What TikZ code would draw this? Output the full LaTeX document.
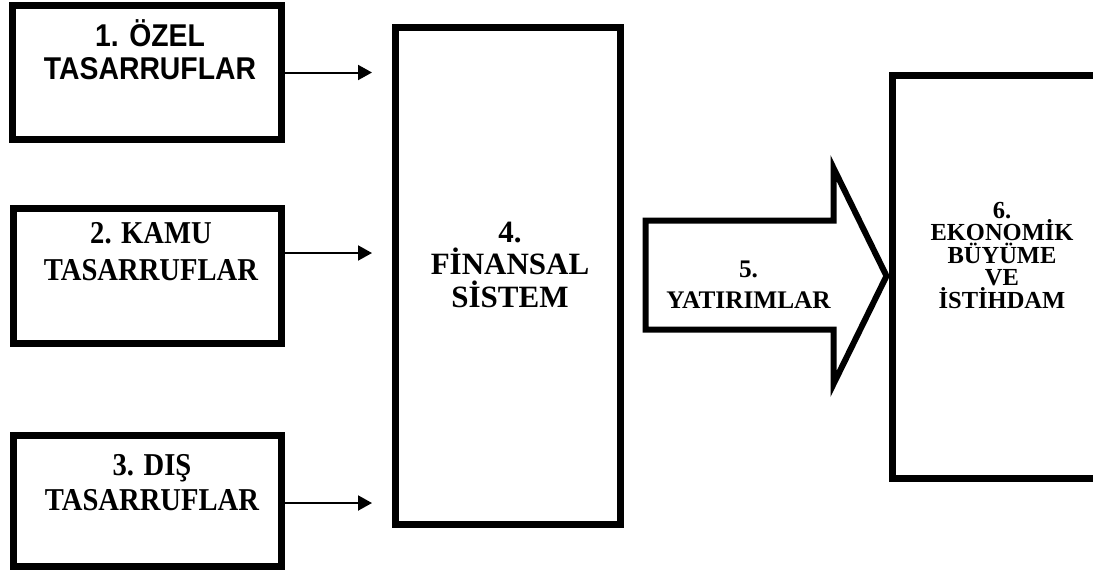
\documentclass[tikz,border=0pt]{standalone}
\usepackage{fontspec}
\setmainfont{Liberation Serif}
\setsansfont{Liberation Sans}
\usetikzlibrary{arrows.meta}

\newcommand\tightlines{\lineskiplimit=-30pt\relax}

\begin{document}
\begin{tikzpicture}[
    x=1pt, y=-1pt,
    box/.style={draw, line width=7pt, inner sep=0pt},
    flow/.style={line width=2pt, -{Triangle[length=14pt, width=15pt]}},
    txt/.style={anchor=base, align=center, inner sep=0pt, font=\bfseries}
]
    % page frame (right box runs off the page)
    \clip (0,0) rectangle (1093,571);

    % --- SOURCES (left column) ---
    \node[box, minimum width=269pt, minimum height=134pt] (ozel) at (147,72.5) {};
    \node[box, minimum width=268pt, minimum height=135pt] (kamu) at (147.5,276) {};
    \node[box, minimum width=268pt, minimum height=131pt] (dis)  at (147.5,501) {};

    % base anchor sits on the last line
    \node[txt, font=\sffamily\bfseries\fontsize{31.5}{32.5}\selectfont\addfontfeature{FakeStretch=0.9}] (ozeltxt) at (150,79) {1. ÖZEL\\TASARRUFLAR};
    \node[txt, font=\bfseries\fontsize{31.8}{37}\selectfont\addfontfeature{FakeStretch=0.9}] (kamutxt) at (151,280) {2. KAMU\\TASARRUFLAR};
    \node[txt, font=\bfseries\fontsize{31.8}{35}\selectfont\addfontfeature{FakeStretch=0.9}] (distxt) at (152,510) {3. DIŞ\\TASARRUFLAR};

    % --- FINANCIAL SYSTEM ---
    \node[box, minimum width=225pt, minimum height=497pt] (fin) at (508,276) {};
    \node[txt, font=\bfseries\fontsize{31}{32.5}\selectfont] (fintxt) at (510,307) {4.\\FİNANSAL\\SİSTEM};

    % free ends of the thin arrows (they stop short of the box)
    \coordinate (gap) at (372,0);

    \draw[flow] (ozel.east) -- (ozel.east -| gap);
    \draw[flow] ([yshift=23pt]kamu.east) -- ([yshift=23pt]kamu.east -| gap);
    \draw[flow] ([yshift=-2pt]dis.east) -- ([yshift=-2pt]dis.east -| gap);

    % --- BIG ARROW (investments) ---
    \draw[line width=6pt] (645.5,220.5) -- (833.5,220.5) -- (833.5,168) -- (886.5,276)
        -- (833.5,384) -- (833.5,329.5) -- (645.5,329.5) -- cycle;
    \node[txt, font=\bfseries\fontsize{25.3}{31}\selectfont] (yat) at (748.5,308) {5.\\YATIRIMLAR};

    % --- GROWTH AND EMPLOYMENT ---
    \node[txt, font=\bfseries\fontsize{24.5}{22.5}\selectfont\tightlines] (ekotxt) at (1002,308) {6.\\EKONOMİK\\BÜYÜME\\VE\\İSTİHDAM};
    \node[box, line width=6.5pt, minimum width=219.5pt, minimum height=403pt] (eko) at (1002.25,277) {};

\end{tikzpicture}
\end{document}
